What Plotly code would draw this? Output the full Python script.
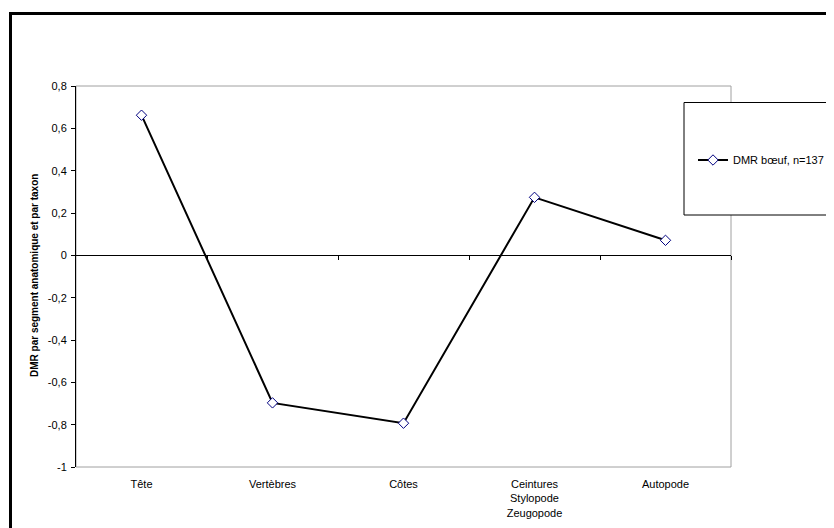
import plotly.graph_objects as go

categories = ["Tête", "Vertèbres", "Côtes", "Ceintures<br>Stylopode<br>Zeugopode", "Autopode"]
values = [0.662, -0.697, -0.793, 0.274, 0.071]
series_name = "DMR bœuf, n=137"
y_tickvals = [0.8, 0.6, 0.4, 0.2, 0, -0.2, -0.4, -0.6, -0.8, -1]
y_ticktext = ["0,8", "0,6", "0,4", "0,2", "0", "-0,2", "-0,4", "-0,6", "-0,8", "-1"]
y_title = "DMR par segment anatomique et par taxon"

OFF = 8  # page body margin
W, H = 834, 528
# plot area in page pixels
PL, PR, PT, PB = 76, 731, 86, 467
L, R, T, B = PL - OFF, PR - OFF, PT - OFF, PB - OFF
pw, ph = R - L, B - T

def px_x(p):  # page pixel -> paper
    return (p - OFF - L) / pw

def px_y(p):
    return (B - (p - OFF)) / ph

FONT = "Liberation Sans, Arial, sans-serif"

fig = go.Figure()
fig.add_trace(go.Scatter(
    x=list(range(len(categories))), y=values, mode="lines+markers",
    name=series_name,
    line=dict(color="black", width=2),
    marker=dict(symbol="diamond", size=8, color="white",
                line=dict(color="#000080", width=1)),
))
fig.add_trace(go.Scatter(x=list(range(len(categories))), y=values, xaxis="x2",
                         mode="markers", marker=dict(opacity=0), showlegend=False,
                         hoverinfo="skip"))

fig.update_layout(
    width=W, height=H,
    margin=dict(l=L, r=W - R, t=T, b=H - B),
    paper_bgcolor="white", plot_bgcolor="white",
    font=dict(family=FONT, size=11, color="black"),
    xaxis=dict(
        range=[-0.5, len(categories) - 0.5],
        tickmode="array", tickvals=list(range(len(categories))), ticktext=categories,
        showgrid=False, zeroline=False, showline=False, ticks="",
        tickfont=dict(size=11), ticklabelstandoff=9,
    ),
    xaxis2=dict(
        overlaying="x", anchor="free", position=px_y(255), side="bottom",
        range=[-0.5, len(categories) - 0.5],
        tickmode="array", tickvals=[i + 0.5 for i in range(len(categories))],
        showticklabels=False, ticks="outside", ticklen=4, tickcolor="black",
        tickwidth=1, showline=True, linecolor="black", linewidth=1,
        showgrid=False, zeroline=False,
    ),
    yaxis=dict(
        range=[-1, 0.8], tickmode="array", tickvals=y_tickvals, ticktext=y_ticktext,
        ticks="outside", ticklen=4, tickcolor="black", showline=True,
        linecolor="black", linewidth=1, showgrid=False, zeroline=False,
        tickfont=dict(size=11), ticklabelstandoff=2,
    ),
    showlegend=True,
    legend=dict(
        x=px_x(693), y=px_y(160), xanchor="left", yanchor="middle",
        bgcolor="rgba(0,0,0,0)", borderwidth=0,
        font=dict(size=11, family=FONT), itemwidth=30,
    ),
    annotations=[dict(
        text="<b>" + y_title + "</b>", textangle=-90, showarrow=False,
        xref="paper", yref="paper", x=px_x(34), y=px_y(276),
        xanchor="center", yanchor="middle", font=dict(size=10, family=FONT),
    )],
    shapes=[
        dict(type="rect", xref="paper", yref="paper", x0=0, y0=0, x1=1, y1=1,
             line=dict(color="#A0A0A0", width=1), layer="below"),
        dict(type="rect", xref="paper", yref="paper",
             x0=px_x(10.5), y0=px_y(900), x1=px_x(1200), y1=px_y(13.5),
             line=dict(color="black", width=3)),
        dict(type="rect", xref="paper", yref="paper",
             x0=px_x(684), y0=px_y(215), x1=px_x(829), y1=px_y(102.5),
             line=dict(color="black", width=1), fillcolor="white", layer="above"),
    ],
)

fig.write_html("out.html")
